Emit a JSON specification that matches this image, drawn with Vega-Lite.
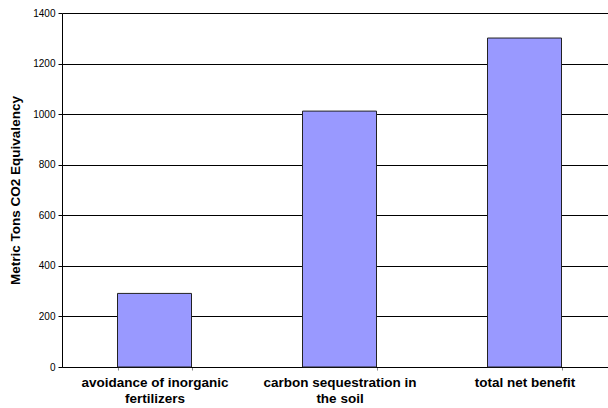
{
  "$schema": "https://vega.github.io/schema/vega-lite/v6.json",
  "autosize": {"type": "none"},
  "padding": {"left": 62, "top": 13, "right": 0, "bottom": 41},
  "width": 555,
  "height": 354,
  "background": "white",
  "data": {
    "values": [
      {"category": "avoidance of inorganic fertilizers", "tons": 291},
      {"category": "carbon sequestration in the soil", "tons": 1012},
      {"category": "total net benefit", "tons": 1301}
    ]
  },
  "config": {
    "view": {"stroke": null},
    "font": "Liberation Sans"
  },
  "mark": {"type": "bar", "color": "#9999FF", "stroke": "#222222", "strokeWidth": 1},
  "encoding": {
    "x": {
      "field": "category",
      "type": "nominal",
      "sort": null,
      "scale": {"paddingInner": 0.6, "paddingOuter": 0.3},
      "axis": {
        "title": null,
        "labelAngle": 0,
        "labelExpr": "datum.value == 'avoidance of inorganic fertilizers' ? ['avoidance of inorganic', 'fertilizers'] : datum.value == 'carbon sequestration in the soil' ? ['carbon sequestration in', 'the soil'] : datum.value",
        "labelFont": "Liberation Sans",
        "labelFontWeight": "bold",
        "labelFontSize": 13.5,
        "labelColor": "#000000",
        "labelPadding": 5,
        "labelLineHeight": 16,
        "domainColor": "#000000",
        "domainWidth": 1,
        "ticks": true,
        "tickBand": "extent",
        "tickColor": "#888888",
        "tickSize": 3,
        "grid": false
      }
    },
    "y": {
      "field": "tons",
      "type": "quantitative",
      "scale": {"domain": [0, 1400], "nice": false},
      "axis": {
        "title": "Metric Tons CO2 Equivalency",
        "titleFont": "Liberation Sans",
        "titleFontWeight": "bold",
        "titleFontSize": 13.5,
        "titleColor": "#000000",
        "titlePadding": 10,
        "values": [0, 200, 400, 600, 800, 1000, 1200, 1400],
        "format": "d",
        "labelFont": "Liberation Sans",
        "labelFontSize": 10,
        "labelColor": "#000000",
        "labelPadding": 3,
        "tickColor": "#000000",
        "tickSize": 4,
        "domainColor": "#000000",
        "grid": true,
        "gridColor": "#000000",
        "gridWidth": 1,
        "gridOpacity": 1
      }
    }
  }
}
